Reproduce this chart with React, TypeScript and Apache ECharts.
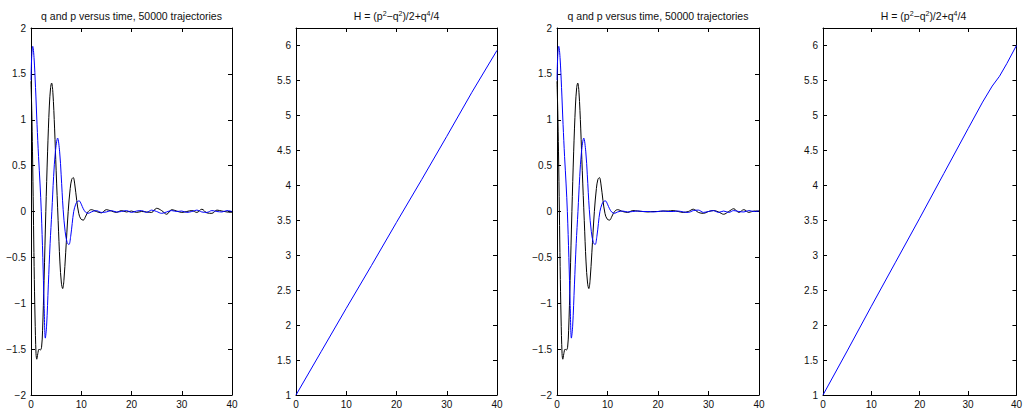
import React, { useEffect, useRef } from "react";
import * as echarts from "echarts";

// ---- data: panel 1 / 3 (q = blue, p = black), early oscillation ----
const qEarlyT = [0, 0.15, 0.35, 0.6, 0.9, 1.2, 1.5, 1.8, 2.05, 2.35, 2.6, 2.85, 3.1, 3.45, 3.8, 4.15, 4.5, 4.85, 5.3, 5.7, 6.0, 6.4, 6.8, 7.2, 7.55, 7.9, 8.2, 8.5, 8.9, 9.25, 9.6, 10.0, 10.4, 10.9, 11.4, 12.0];
const qEarly = [1.43, 1.7, 1.8, 1.68, 1.35, 0.95, 0.6, 0.3, 0.0, -0.5, -1.0, -1.38, -1.25, -0.8, -0.35, 0.0, 0.38, 0.65, 0.8, 0.65, 0.4, 0.02, -0.22, -0.34, -0.36, -0.27, -0.13, 0.0, 0.08, 0.11, 0.115, 0.08, 0.03, -0.01, -0.02, -0.005];
const pEarlyT = [0, 0.15, 0.3, 0.47, 0.62, 0.8, 1.0, 1.15, 1.35, 1.6, 1.85, 2.1, 2.3, 2.6, 2.95, 3.3, 3.65, 3.9, 4.1, 4.35, 4.7, 5.0, 5.4, 5.75, 6.05, 6.3, 6.55, 6.9, 7.4, 7.8, 8.1, 8.4, 8.7, 9.1, 9.5, 9.9, 10.4, 10.9, 11.4, 12.0];
const pEarly = [1.42, 1.1, 0.65, 0.0, -0.6, -1.15, -1.55, -1.61, -1.55, -1.5, -1.51, -1.48, -1.3, -0.75, 0.0, 0.65, 1.15, 1.35, 1.4, 1.3, 0.9, 0.45, -0.1, -0.55, -0.78, -0.84, -0.75, -0.45, 0.0, 0.25, 0.35, 0.37, 0.3, 0.12, -0.02, -0.08, -0.094, -0.05, 0.0, 0.02];

// ---- tails (small fluctuations) ----
const tailT = [13, 14, 15, 16, 17, 18, 19, 20, 21, 22, 23, 24, 25, 26, 27, 28, 29, 30, 31, 32, 33, 34, 35, 36, 37, 38, 39, 40];
const p1Tail = [0.0, -0.015, 0.02, 0.005, -0.01, 0.01, -0.005, 0.005, -0.01, 0.0, -0.005, -0.01, 0.035, 0.01, -0.03, 0.02, 0.005, -0.01, 0.0, 0.01, -0.01, 0.025, -0.015, -0.02, 0.015, 0.005, -0.005, -0.01];
const q1Tail = [0.01, -0.01, -0.005, 0.01, -0.005, 0.0, 0.01, -0.01, 0.005, 0.01, -0.01, 0.015, 0.0, -0.02, -0.005, 0.01, 0.0, 0.005, -0.01, 0.0, 0.015, -0.005, -0.01, 0.01, 0.0, -0.005, 0.01, 0.0];
const p3Tail = [0.0, -0.01, 0.01, 0.005, 0.0, -0.005, 0.0, 0.0, 0.005, 0.005, 0.01, 0.0, -0.01, 0.0, 0.025, -0.01, -0.02, 0.0, 0.01, -0.005, -0.03, 0.0, 0.03, -0.01, 0.02, -0.01, 0.005, 0.005];
const q3Tail = [0.005, -0.005, 0.0, 0.005, 0.0, 0.0, -0.005, 0.0, 0.005, 0.0, 0.0, 0.005, -0.005, -0.01, 0.01, 0.015, -0.01, 0.0, 0.01, -0.01, 0.005, -0.01, 0.01, 0.0, -0.005, 0.01, 0.0, 0.005];

// ---- energy H(t) ----
const h1Time = [0, 5, 10, 15, 20, 25, 30, 35, 40];
const h1 = [1, 1.62, 2.24, 2.85, 3.47, 4.08, 4.7, 5.33, 5.93];
const h2Time = [0, 5, 10, 15, 20, 25, 30, 33, 35, 36.5, 38, 40];
const h2 = [1, 1.63, 2.27, 2.9, 3.53, 4.17, 4.81, 5.19, 5.42, 5.56, 5.74, 6.0];

const xTicks = { min: 0, max: 40, interval: 10 };
const titleQP = "q and p versus time, 50000 trajectories";

const pairs = (t: number[], v: number[]) => t.map((x, i) => [x, v[i]]);

const FONT = "'Liberation Sans', Arial, Helvetica, sans-serif";
const TXT = "#111";

export default function App() {
  const ref = useRef<HTMLDivElement>(null);
  useEffect(() => {
    if (!ref.current) return;
    const chart = echarts.init(ref.current, undefined, { renderer: "svg" });

    const grids = [
      { left: 31, top: 28, width: 201, height: 369 },
      { left: 296, top: 28, width: 201, height: 369 },
      { left: 557, top: 28, width: 202, height: 369 },
      { left: 823, top: 28, width: 201, height: 369 },
    ];
    const yRanges = [
      { min: -2, max: 2, interval: 0.5 },
      { min: 1, max: 6.25, interval: 0.5 },
      { min: -2, max: 2, interval: 0.5 },
      { min: 1, max: 6.25, interval: 0.5 },
    ];
    const fmt = (v: number) => String(v).replace("-", "\u2212");
    const axLine = { show: true, onZero: false, lineStyle: { color: "#000", width: 1 } };
    const tick = { show: true, inside: true, length: 4, lineStyle: { color: "#000" } };

    const xAxis: any[] = [];
    const yAxis: any[] = [];
    grids.forEach((_, i) => {
      xAxis.push({
        type: "value", gridIndex: i, position: "bottom", ...xTicks,
        axisLine: axLine, axisTick: tick, splitLine: { show: false },
        axisLabel: { show: true, margin: 4, fontSize: 10, color: TXT, fontFamily: FONT, formatter: fmt },
      });
      xAxis.push({
        type: "value", gridIndex: i, position: "top", ...xTicks,
        axisLine: axLine, axisTick: tick, splitLine: { show: false }, axisLabel: { show: false },
      });
      yAxis.push({
        type: "value", gridIndex: i, position: "left", ...yRanges[i],
        axisLine: axLine, axisTick: tick, splitLine: { show: false },
        axisLabel: { show: true, margin: 5, fontSize: 10, color: TXT, fontFamily: FONT, formatter: fmt, showMaxLabel: yRanges[i].max === 2 },
      });
      yAxis.push({
        type: "value", gridIndex: i, position: "right", ...yRanges[i],
        axisLine: axLine, axisTick: tick, splitLine: { show: false }, axisLabel: { show: false },
      });
    });

    const line = (i: number, data: number[][], color: string) => ({
      type: "line", xAxisIndex: 2 * i, yAxisIndex: 2 * i, data,
      showSymbol: false, smooth: 0.35, clip: true,
      lineStyle: { color, width: 1 }, itemStyle: { color },
    });

    const p1 = pairs(pEarlyT.concat(tailT), pEarly.concat(p1Tail));
    const q1 = pairs(qEarlyT.concat(tailT), qEarly.concat(q1Tail));
    const p3 = pairs(pEarlyT.concat(tailT), pEarly.concat(p3Tail));
    const q3 = pairs(qEarlyT.concat(tailT), qEarly.concat(q3Tail));

    const series = [
      line(0, p1, "#000000"),
      line(0, q1, "#0000ff"),
      { ...line(1, pairs(h1Time, h1), "#0000ff"), smooth: false },
      line(2, p3, "#000000"),
      line(2, q3, "#0000ff"),
      { ...line(3, pairs(h2Time, h2), "#0000ff"), smooth: false },
    ];

    const supRich = { sup: { fontSize: 7, verticalAlign: "top", padding: [0, 0, 5, 0], fontFamily: FONT, fill: TXT } };
    const hTitle = "H = (p{sup|2}\u2212q{sup|2})/2+q{sup|4}/4";
    const centers = grids.map((g) => g.left + g.width / 2);
    const titleTexts = [titleQP, hTitle, titleQP, hTitle];
    const graphic = titleTexts.map((t, i) => ({
      type: "text", x: centers[i], y: 16,
      style: {
        text: t, fill: TXT, font: `10.5px ${FONT}`, align: "center", verticalAlign: "middle",
        rich: supRich,
      },
    }));

    chart.setOption({
      animation: false,
      backgroundColor: "#fff",
      grid: grids,
      xAxis, yAxis, series, graphic,
    });
    return () => chart.dispose();
  }, []);
  return <div ref={ref} style={{ position: "fixed", left: 0, top: 0, width: 1025, height: 409 }} />;
}
